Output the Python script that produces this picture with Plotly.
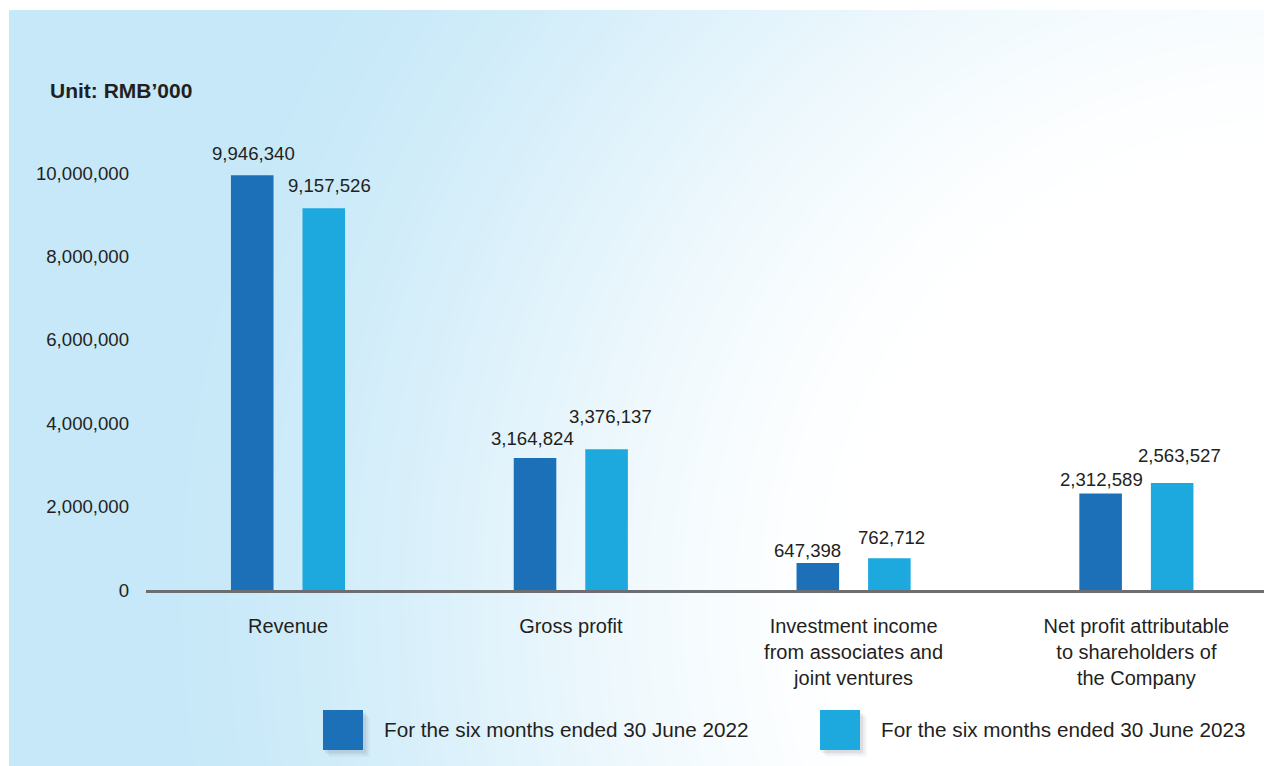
import base64
import struct
import zlib

import numpy as np
import plotly.graph_objects as go

# ---------------- data ----------------
categories = [
    "Revenue",
    "Gross profit",
    "Investment income<br>from associates and<br>joint ventures",
    "Net profit attributable<br>to shareholders of<br>the Company",
]
series_names = [
    "For the six months ended 30 June 2022",
    "For the six months ended 30 June 2023",
]
values_2022 = [9946340, 3164824, 647398, 2312589]
values_2023 = [9157526, 3376137, 762712, 2563527]
tick_values = [0, 2000000, 4000000, 6000000, 8000000, 10000000]
unit_label = "Unit: RMB\u2019000"

# ---------------- style ----------------
W, H = 1265, 766
ML, MR, MT, MB = 146, 1, 130, 176
PW, PH = W - ML - MR, H - MT - MB
COL_DARK = "#1b70b7"
COL_LIGHT = "#1da8de"
TXT = "#231f20"
FONT = "Liberation Sans, Arial, Helvetica, sans-serif"
# value-label nudges (pixels) relative to each bar top/centre, as in the original
label_dx_2022 = [1, -2.5, -10.5, 0.5]
label_dy_2022 = [22, 20, 13, 14.5]
label_dx_2023 = [5.5, 4, 2, 7]
label_dy_2023 = [23, 33, 21, 28]
BAR_OFFSET = 35.75


def px2x(px):
    return (px - ML) / PW


def px2y(py):
    return (H - MB - py) / PH


# background gradient panel as PNG
def make_png(arr):
    h, w, _ = arr.shape
    raw = b"".join(b"\x00" + arr[i].tobytes() for i in range(h))

    def chunk(tag, data):
        c = struct.pack(">I", len(data)) + tag + data
        return c + struct.pack(">I", zlib.crc32(tag + data) & 0xFFFFFFFF)

    return (b"\x89PNG\r\n\x1a\n"
            + chunk(b"IHDR", struct.pack(">IIBBBBB", w, h, 8, 2, 0, 0, 0))
            + chunk(b"IDAT", zlib.compress(raw, 9))
            + chunk(b"IEND", b""))


PX0, PY0, PX1, PY1 = 9, 10, 1264, 766
yy, xx = np.mgrid[PY0:PY1, PX0:PX1].astype(float)
d = np.hypot(xx - 1300, yy - 600)
t = np.clip((1150 - d) / 700, 0, 1)
t = t * t * (3 - 2 * t) * 0.6 + t * 0.4
blue = np.array([198, 232, 248], float)
white = np.array([255, 255, 255], float)
img = (blue[None, None, :] * (1 - t[..., None]) + white[None, None, :] * t[..., None])
img = np.clip(np.round(img), 0, 255).astype(np.uint8)
src = "data:image/png;base64," + base64.b64encode(make_png(img)).decode()

# ---------------- figure ----------------
fig = go.Figure()
fig.add_trace(go.Bar(x=categories, y=values_2022, name=series_names[0],
                     marker=dict(color=COL_DARK, line=dict(width=0)),
                     hoverinfo="skip"))
fig.add_trace(go.Bar(x=categories, y=values_2023, name=series_names[1],
                     marker=dict(color=COL_LIGHT, line=dict(width=0)),
                     hoverinfo="skip"))

annotations = []
for vals, side, dxs, dys in ((values_2022, -1, label_dx_2022, label_dy_2022),
                             (values_2023, 1, label_dx_2023, label_dy_2023)):
    for c, v, dx, dy in zip(categories, vals, dxs, dys):
        annotations.append(dict(
            x=c, y=v, xref="x", yref="y", text=f"{v:,}", showarrow=False,
            xshift=side * BAR_OFFSET + dx, yshift=dy, yanchor="middle",
            font=dict(family=FONT, size=18.6, color=TXT)))

annotations.append(dict(
    x=px2x(48), y=px2y(91), xref="paper", yref="paper", text=f"<b>{unit_label}</b>",
    showarrow=False, xanchor="left", yanchor="middle",
    font=dict(family=FONT, size=21, color=TXT)))

# manual legend (large square keys with soft shadow)
shapes = []
legend_keys = [(323, COL_DARK), (820, COL_LIGHT)]
for (bx, col), name in zip(legend_keys, series_names):
    for k, a in ((7, 0.04), (5, 0.06), (3, 0.09)):
        shapes.append(dict(type="rect", xref="paper", yref="paper", layer="above",
                           x0=px2x(bx + k - 1), x1=px2x(bx + 40 + k), y0=px2y(710 + k),
                           y1=px2y(750 + k), fillcolor=f"rgba(60,70,90,{a})",
                           line=dict(width=0)))
    shapes.append(dict(type="rect", xref="paper", yref="paper", layer="above",
                       x0=px2x(bx), x1=px2x(bx + 40), y0=px2y(710), y1=px2y(750),
                       fillcolor=col, line=dict(width=0)))
    annotations.append(dict(
        x=px2x(bx + 59), y=px2y(729), xref="paper", yref="paper", text=name,
        showarrow=False, xanchor="left", yanchor="middle",
        font=dict(family=FONT, size=20.7, color=TXT)))

cstep = 282.8
fig.update_layout(
    width=W, height=H,
    margin=dict(l=ML, r=MR, t=MT, b=MB, pad=0),
    paper_bgcolor="white",
    plot_bgcolor="rgba(0,0,0,0)",
    barmode="group", bargap=0.494, bargroupgap=0.405,
    showlegend=False,
    font=dict(family=FONT, color=TXT),
    images=[dict(source=src, xref="paper", yref="paper",
                 x=px2x(PX0), y=px2y(PY0), sizex=(PX1 - PX0) / PW,
                 sizey=(PY1 - PY0) / PH, xanchor="left", yanchor="top",
                 sizing="stretch", layer="below")],
    shapes=shapes,
    annotations=annotations,
    xaxis=dict(
        range=[(ML - 288) / cstep, (W - MR - 288) / cstep],
        showline=True, linecolor="#6d6e71", linewidth=3,
        showgrid=False, zeroline=False, ticks="",
        tickfont=dict(family=FONT, size=20, color=TXT),
        ticklabelstandoff=16, fixedrange=True,
    ),
    yaxis=dict(
        range=[0, PH / 41.7e-6],
        tickvals=tick_values, tickformat=",d",
        showline=False, showgrid=False, zeroline=False, ticks="",
        tickfont=dict(family=FONT, size=18.6, color=TXT),
        ticklabelstandoff=16, fixedrange=True,
    ),
)

fig.write_html("out.html", config={"displayModeBar": False})
